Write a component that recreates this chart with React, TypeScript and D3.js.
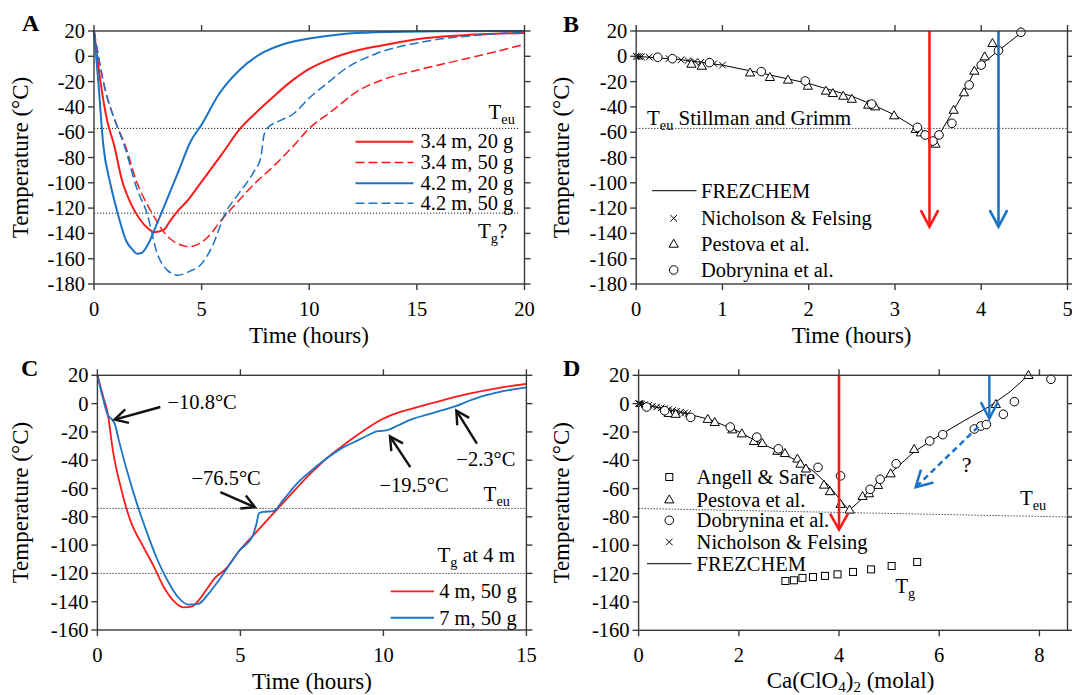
import React from "react";
import * as d3 from "d3";

type P = [number, number];

// ---------- Panel A : temperature vs time ----------
const aRed20: P[] = [[0,20],[0.3,-20],[0.6,-50],[0.93,-70],[1.3,-98],[1.7,-116],[2.1,-128],[2.5,-136],[2.8,-139],[3.25,-137],[3.5,-131],[3.9,-122],[4.3,-115],[5,-99],[6,-76],[6.75,-58],[7.5,-45],[8.33,-32],[9,-22],[10,-10],[11,-2],[12.3,5],[13.5,9],[15,13.5],[17,16.5],[20,18.5]];
const aRed50: P[] = [[0,20],[0.5,-25],[1,-52],[1.44,-70],[2,-100],[2.5,-118],[2.8,-127],[3.2,-138],[3.6,-145],[4,-149],[4.4,-150.5],[5,-147],[5.4,-141],[5.8,-132],[6.3,-122],[6.75,-113.6],[7.5,-100],[8.33,-87],[9.2,-72],[10,-57],[11,-44],[12.3,-27],[13.5,-18],[15,-11],[17,-3],[18.5,3],[20,9.5]];
const aBlue20: P[] = [[0,20],[0.2,-20],[0.43,-70],[0.75,-100],[1.1,-124],[1.5,-146],[1.8,-153],[2,-156],[2.2,-155.5],[2.5,-149],[2.86,-135],[3.25,-119],[3.9,-92],[4.5,-67],[5,-54],[5.8,-30],[6.75,-11],[7.7,1.5],[8.8,9.5],[10,14],[11.5,17.5],[13.1,19],[16,19.8],[20,20]];
const aBlue50: P[] = [[0,20],[0.5,-25],[1,-52],[1.4,-70],[2,-105],[2.46,-124],[2.94,-156],[3.4,-169],[3.9,-173],[4.44,-170],[5,-164],[5.5,-150],[6.1,-124],[6.75,-108],[7.4,-92],[7.75,-80],[7.9,-62],[8.1,-56],[8.5,-52],[9.3,-45],[10,-33],[11,-19],[11.5,-12],[13.1,2],[15,10.5],[17.9,16.8],[20,19]];
const aLegend = ["3.4 m, 20 g", "3.4 m, 50 g", "4.2 m, 20 g", "4.2 m, 50 g"];
const aTeu = -57;
const aTg = -124;

// ---------- Panel B ----------
const bFrez: P[] = [[0,0],[0.5,-2.5],[1,-7],[1.5,-14],[2,-21.5],[2.5,-31.5],[2.75,-38.5],[3,-46.5],[3.25,-57],[3.45,-67],[3.53,-60],[3.68,-42.5],[3.8,-28.5],[3.92,-12],[4,-6.5],[4.2,4.5],[4.47,19]];
const bNich: P[] = [[0,0],[0.02,-0.1],[0.04,-0.2],[0.06,-0.3],[0.15,-0.6],[0.38,-1.8],[0.52,-2.8],[0.6,-3.4],[0.68,-4.1],[0.75,-4.7],[0.9,-5.8],[1,-7]];
const bPest: P[] = [[0.64,-6.1],[0.76,-7.7],[1.32,-13],[1.55,-16.6],[1.76,-18.7],[1.99,-23.5],[2.2,-27.4],[2.28,-29.3],[2.4,-31.4],[2.5,-33.8],[2.69,-38.5],[2.77,-39.8],[2.99,-46.9],[3.24,-57.7],[3.3,-60.4],[3.47,-69.3],[3.68,-42.5],[3.8,-28.7],[3.92,-11.6],[4.04,-0.3],[4.13,10.3]];
const bDob: P[] = [[0.25,-0.8],[0.42,-1.9],[0.85,-5],[1.45,-12.1],[1.96,-19.5],[2.73,-37.7],[3.26,-56.2],[3.35,-62.2],[3.44,-67],[3.51,-62.2],[3.66,-53],[3.86,-22.7],[4,-6.9],[4.2,4.5],[4.46,19]];
const bArrows = [3.4, 4.2];
const bArrowTip = -134.7;
const bTeu = -57;

// ---------- Panel C ----------
const cRed: P[] = [[0,20],[0.2,5],[0.36,-7],[0.54,-33],[0.84,-61],[1.14,-82],[1.6,-101],[1.97,-115],[2.33,-130],[2.69,-140],[3,-144],[3.3,-143.5],[3.5,-140],[3.76,-133],[4.12,-123],[4.48,-117],[4.96,-104],[5.5,-92],[6,-81],[6.5,-70],[7,-59],[7.5,-48.5],[8,-39],[8.5,-31],[9,-23.5],[9.5,-16.5],[10,-10.5],[10.5,-6.5],[11,-3.5],[12,2],[13,7],[14,11],[15,14]];
const cBlue: P[] = [[0,20],[0.18,5],[0.36,-8],[0.5,-11],[0.6,-14],[0.75,-26],[1,-45],[1.37,-70],[1.73,-91],[2.09,-110],[2.45,-125],[2.81,-136.5],[3.17,-142],[3.53,-141.5],[3.88,-134.5],[4.24,-125],[4.48,-118],[4.96,-104],[5.44,-93],[5.56,-85],[5.65,-77.5],[5.8,-76.5],[6.15,-76],[6.5,-68],[7,-56],[7.5,-47],[8,-39],[8.5,-32],[9,-27],[9.5,-22],[9.8,-19.5],[10.1,-19],[10.5,-15.5],[11,-11],[11.5,-8],[12,-5],[12.5,-2],[13,2],[13.5,5.5],[14,8],[15,11.5]];
const cLegend = ["4 m, 50 g", "7 m, 50 g"];
const cTeu = -74.1;
const cTg = -120;
// annotation: label, text anchor [x,y], arrow tail, arrow tip (data units)
const cNotes: { label: string; text: P; tail: P; tip: P }[] = [
  { label: "\u221210.8\u00b0C", text: [2.45, -3.6], tail: [2.2, -2.4], tip: [0.6, -11.3] },
  { label: "\u221276.5\u00b0C", text: [3.29, -57.8], tail: [4.3, -62.6], tip: [5.51, -73.2] },
  { label: "\u221219.5\u00b0C", text: [9.86, -62.6], tail: [10.94, -44.9], tip: [10.23, -23.2] },
  { label: "\u22122.3\u00b0C", text: [12.55, -43.8], tail: [13.27, -28.3], tip: [12.55, -4.9] },
];

// ---------- Panel D ----------
const dFrez: P[] = [[0,0],[0.5,-3.5],[1,-7.5],[1.4,-11],[1.9,-18],[2.3,-25.5],[2.75,-33],[3.2,-41],[3.5,-48],[3.8,-58],[4.05,-69],[4.2,-75.5],[4.65,-61],[5,-50],[5.5,-34],[6,-22.5],[6.5,-12],[7,-2],[7.4,8],[7.78,20]];
const dNich: P[] = [[0,0],[0.01,-0.05],[0.03,-0.15],[0.06,-0.3],[0.12,-0.7],[0.2,-1.2],[0.28,-1.8],[0.36,-2.4],[0.45,-3],[0.52,-3.5],[0.6,-4.2],[0.68,-4.8],[0.76,-5.4],[0.84,-6],[0.92,-6.6],[0.98,-7.1]];
const dPest: P[] = [[0.6,-6.8],[0.74,-7.4],[1.38,-11],[1.52,-13.2],[1.87,-18.4],[2.06,-21.2],[2.3,-26.6],[2.47,-28],[2.77,-33.5],[2.92,-35.1],[3.17,-39],[3.23,-42.6],[3.34,-46],[3.7,-57.4],[3.82,-62],[4.03,-71],[4.21,-75],[4.47,-65.4],[4.6,-63.5],[4.78,-57.6],[5.03,-49.4],[5.5,-32.2],[7.13,-0.5],[7.78,20]];
const dDob: P[] = [[0.16,-2.4],[0.52,-5],[1.04,-9.7],[1.83,-16.5],[2.36,-23.6],[2.79,-31.9],[3.58,-45],[4.03,-51],[4.62,-60.5],[4.82,-53.4],[5.14,-42.4],[5.81,-26.4],[6.07,-21.9],[6.7,-17.9],[6.83,-15.8],[6.94,-14.8],[7.28,-7.5],[7.5,1.4],[8.23,17.2]];
const dAngell: P[] = [[2.93,-125.2],[3.1,-124.7],[3.27,-123],[3.48,-122.4],[3.72,-121.6],[3.97,-120.5],[4.28,-118.8],[4.64,-117],[5.05,-114.6],[5.56,-111.8]];
const dTeu: P[] = [[0,-74],[8.56,-80]];
const dRedArrow = { x: 4, tip: -89 };
const dBlueArrow = { x: 7, tip: -10.6 };
const dDashArrow: P[] = [[6.78,-16.3],[5.53,-59]];

// ticks
const ticksA_x = [0, 5, 10, 15, 20];
const ticksB_x = [0, 1, 2, 3, 4, 5];
const ticksC_x = [0, 5, 10, 15];
const ticksD_x = [0, 2, 4, 6, 8];
const ticksAB_y = d3.range(-180, 21, 20);
const ticksCD_y = d3.range(-160, 21, 20);

const FONT = "'Liberation Serif', 'Times New Roman', Times, serif";
const RED = "#ff1a1a";
const BLUE = "#1a73c6";
const AX = "#3a3a3a";

type S = d3.ScaleLinear<number, number>;

function Frame({ sx, sy, xt, yt }: { sx: S; sy: S; xt: number[]; yt: number[] }) {
  const [left, right] = sx.range();
  const [bottom, top] = sy.range();
  return (
    <g>
      <rect x={left} y={top} width={right - left} height={bottom - top} fill="none" stroke={AX} strokeWidth={1.4} />
      {xt.map((v) => (
        <g key={"x" + v}>
          <line x1={sx(v)} x2={sx(v)} y1={bottom} y2={bottom + 6} stroke={AX} strokeWidth={1.4} />
          <line x1={sx(v)} x2={sx(v)} y1={top} y2={top - 6} stroke={AX} strokeWidth={1.4} />
          <text x={sx(v)} y={bottom + 32} textAnchor="middle" fontSize={20.5}>{v}</text>
        </g>
      ))}
      {yt.map((v) => (
        <g key={"y" + v}>
          <line x1={left - 6} x2={left} y1={sy(v)} y2={sy(v)} stroke={AX} strokeWidth={1.4} />
          <line x1={right} x2={right + 6} y1={sy(v)} y2={sy(v)} stroke={AX} strokeWidth={1.4} />
          <text x={left - 9} y={sy(v) + 7} textAnchor="end" fontSize={20.5}>{String(v)}</text>
        </g>
      ))}
    </g>
  );
}

function Arrow({ x1, y1, x2, y2, color, w = 2.5, head = 16, half = 9, dash }: any) {
  const ang = Math.atan2(y2 - y1, x2 - x1);
  const ux = Math.cos(ang), uy = Math.sin(ang);
  const bx = x2 - ux * head, by = y2 - uy * head;
  const px = -uy, py = ux;
  const pts = `${bx + px * half},${by + py * half} ${x2},${y2} ${bx - px * half},${by - py * half}`;
  return (
    <g>
      <line x1={x1} y1={y1} x2={x2 - ux * 1} y2={y2 - uy * 1} stroke={color} strokeWidth={w} strokeDasharray={dash} />
      <polyline points={pts} fill="none" stroke={color} strokeWidth={w} />
    </g>
  );
}

function Circ({ x, y }: { x: number; y: number }) {
  return <circle cx={x} cy={y} r={4.3} fill="#fff" stroke="#000" strokeWidth={1} />;
}
function Tri({ x, y }: { x: number; y: number }) {
  return <polygon points={`${x},${y - 4.8} ${x + 4.6},${y + 3.2} ${x - 4.6},${y + 3.2}`} fill="#fff" stroke="#000" strokeWidth={1} />;
}
function Cross({ x, y }: { x: number; y: number }) {
  const s = 3.3;
  return (
    <g stroke="#000" strokeWidth={1}>
      <line x1={x - s} y1={y - s} x2={x + s} y2={y + s} />
      <line x1={x - s} y1={y + s} x2={x + s} y2={y - s} />
    </g>
  );
}
function Sq({ x, y }: { x: number; y: number }) {
  return <rect x={x - 3.5} y={y - 3.5} width={7} height={7} fill="#fff" stroke="#000" strokeWidth={1} />;
}

function Sub({ x, y, main, sub, rest, size = 21, anchor }: any) {
  return (
    <text x={x} y={y} fontSize={size} textAnchor={anchor}>
      {main}
      <tspan dy={5} fontSize={size * 0.68}>{sub}</tspan>
      {rest ? <tspan dy={-5}>{rest}</tspan> : null}
    </text>
  );
}

function YTitle({ x, y }: { x: number; y: number }) {
  return (
    <text transform={`translate(${x},${y}) rotate(-90)`} textAnchor="middle" dominantBaseline="central" fontSize={23}>
      Temperature (°C)
    </text>
  );
}

export default function App() {
  const axA = d3.scaleLinear().domain([0, 20]).range([94, 524.5]);
  const ayA = d3.scaleLinear().domain([-180, 20]).range([284, 31]);
  const axB = d3.scaleLinear().domain([0, 5]).range([636.2, 1067.5]);
  const ayB = ayA;
  const axC = d3.scaleLinear().domain([0, 15]).range([97.4, 526.4]);
  const ayC = d3.scaleLinear().domain([-160, 20]).range([630, 375.3]);
  const axD = d3.scaleLinear().domain([0, 8.56]).range([638.6, 1067.5]);
  const ayD = d3.scaleLinear().domain([-160, 20]).range([630.3, 375.3]);

  const lineOf = (sx: S, sy: S, smooth = true) =>
    d3.line<P>().x((d) => sx(d[0])).y((d) => sy(d[1])).curve(smooth ? d3.curveMonotoneX : d3.curveLinear);

  const lA = lineOf(axA, ayA);
  const lC = lineOf(axC, ayC);
  const lB = lineOf(axB, ayB, false);
  const lD = lineOf(axD, ayD, false);

  const aSeries = [
    { d: aRed20, c: RED, dash: undefined, w: 2 },
    { d: aRed50, c: RED, dash: "9,4", w: 1.5 },
    { d: aBlue20, c: BLUE, dash: undefined, w: 2 },
    { d: aBlue50, c: BLUE, dash: "9,4", w: 1.5 },
  ];
  const aLegendY = [141.7, 162.5, 183.3, 203.3];

  return (
    <svg width={1072} height={695} style={{ display: "block", position: "absolute", left: 0, top: 0 }} fontFamily={FONT}>
      <rect width={1072} height={695} fill="#fff" />

      {/* ---------------- Panel A ---------------- */}
      <g>
        <line x1={axA(0)} x2={axA(19.76)} y1={ayA(aTeu)} y2={ayA(aTeu)} stroke="#222" strokeWidth={1} strokeDasharray="1.2,1.8" />
        <line x1={axA(0)} x2={axA(19.76)} y1={ayA(aTg)} y2={ayA(aTg)} stroke="#222" strokeWidth={1} strokeDasharray="1.2,1.8" />
        {aSeries.map((s, i) => (
          <path key={i} d={lA(s.d) || ""} fill="none" stroke={s.c} strokeWidth={s.w} strokeDasharray={s.dash} />
        ))}
        <Frame sx={axA} sy={ayA} xt={ticksA_x} yt={ticksAB_y} />
        {aSeries.map((s, i) => (
          <g key={"lg" + i}>
            <line x1={355.5} x2={413.5} y1={aLegendY[i]} y2={aLegendY[i]} stroke={s.c} strokeWidth={s.w} strokeDasharray={s.dash} />
            <text x={420.5} y={aLegendY[i] + 6.5} fontSize={20.5}>{aLegend[i]}</text>
          </g>
        ))}
        <Sub x={488.5} y={119} main="T" sub="eu" />
        <Sub x={478} y={237.5} main="T" sub="g" rest="?" />
        <text x={22} y={31} fontSize={24} fontWeight="bold">A</text>
        <YTitle x={20.5} y={157.5} />
        <text x={309} y={343} textAnchor="middle" fontSize={23}>Time (hours)</text>
      </g>

      {/* ---------------- Panel B ---------------- */}
      <g>
        <line x1={axB(0)} x2={axB(5)} y1={ayB(bTeu)} y2={ayB(bTeu)} stroke="#222" strokeWidth={1} strokeDasharray="1.2,1.8" />
        <path d={lB(bFrez) || ""} fill="none" stroke="#000" strokeWidth={1} />
        {bNich.map((p, i) => <Cross key={"bn" + i} x={axB(p[0])} y={ayB(p[1])} />)}
        {bPest.map((p, i) => <Tri key={"bp" + i} x={axB(p[0])} y={ayB(p[1])} />)}
        {bDob.map((p, i) => <Circ key={"bd" + i} x={axB(p[0])} y={ayB(p[1])} />)}
        {bArrows.map((t, i) => (
          <Arrow key={"ba" + i} x1={axB(t)} y1={ayB(20)} x2={axB(t)} y2={ayB(bArrowTip)} color={i === 0 ? RED : BLUE} w={2.6} head={16.5} half={8.8} />
        ))}
        <Frame sx={axB} sy={ayB} xt={ticksB_x} yt={ticksAB_y} />
        <Sub x={647} y={125} main="T" sub="eu" rest=" Stillman and Grimm" />
        <line x1={652} x2={696.5} y1={190.7} y2={190.7} stroke="#000" strokeWidth={1} />
        <text x={701} y={197.5} fontSize={20.5}>FREZCHEM</text>
        <Cross x={673.7} y={218.3} />
        <text x={701} y={225} fontSize={20.5}>Nicholson &amp; Felsing</text>
        <Tri x={673.7} y={244} />
        <text x={701} y={251} fontSize={20.5}>Pestova et al.</text>
        <Circ x={673.7} y={270} />
        <text x={701} y={277} fontSize={20.5}>Dobrynina et al.</text>
        <text x={563} y={32} fontSize={24} fontWeight="bold">B</text>
        <YTitle x={561.6} y={157.5} />
        <text x={851.6} y={343} textAnchor="middle" fontSize={23}>Time (hours)</text>
      </g>

      {/* ---------------- Panel C ---------------- */}
      <g>
        <line x1={axC(0)} x2={axC(15)} y1={ayC(cTeu)} y2={ayC(cTeu)} stroke="#222" strokeWidth={1} strokeDasharray="1.2,1.8" />
        <line x1={axC(0)} x2={axC(15)} y1={ayC(cTg)} y2={ayC(cTg)} stroke="#222" strokeWidth={1} strokeDasharray="1.2,1.8" />
        <path d={lC(cRed) || ""} fill="none" stroke={RED} strokeWidth={1.8} />
        <path d={lC(cBlue) || ""} fill="none" stroke={BLUE} strokeWidth={1.8} />
        <Frame sx={axC} sy={ayC} xt={ticksC_x} yt={ticksCD_y} />
        {cNotes.map((n, i) => (
          <g key={"cn" + i}>
            <text x={axC(n.text[0])} y={ayC(n.text[1])} fontSize={20.5}>{n.label}</text>
            <Arrow x1={axC(n.tail[0])} y1={ayC(n.tail[1])} x2={axC(n.tip[0])} y2={ayC(n.tip[1])} color="#111" w={2.4} head={13} half={7} />
          </g>
        ))}
        <Sub x={483.6} y={501} main="T" sub="eu" />
        <Sub x={437.5} y={562} main="T" sub="g" rest=" at 4 m" />
        <line x1={390.7} x2={434} y1={591.3} y2={591.3} stroke={RED} strokeWidth={1.8} />
        <text x={439.2} y={598} fontSize={20.5}>{cLegend[0]}</text>
        <line x1={390.7} x2={434} y1={617.7} y2={617.7} stroke={BLUE} strokeWidth={2} />
        <text x={439.2} y={624.5} fontSize={20.5}>{cLegend[1]}</text>
        <text x={21} y={376} fontSize={24} fontWeight="bold">C</text>
        <YTitle x={20.5} y={502.6} />
        <text x={312} y={688.7} textAnchor="middle" fontSize={23}>Time (hours)</text>
      </g>

      {/* ---------------- Panel D ---------------- */}
      <g>
        <line x1={axD(dTeu[0][0])} x2={axD(dTeu[1][0])} y1={ayD(dTeu[0][1])} y2={ayD(dTeu[1][1])} stroke="#222" strokeWidth={1} strokeDasharray="1.2,1.8" />
        <path d={lD(dFrez) || ""} fill="none" stroke="#000" strokeWidth={1} />
        {dNich.map((p, i) => <Cross key={"dn" + i} x={axD(p[0])} y={ayD(p[1])} />)}
        {dPest.map((p, i) => <Tri key={"dp" + i} x={axD(p[0])} y={ayD(p[1])} />)}
        {dDob.map((p, i) => <Circ key={"dd" + i} x={axD(p[0])} y={ayD(p[1])} />)}
        {dAngell.map((p, i) => <Sq key={"da" + i} x={axD(p[0])} y={ayD(p[1])} />)}
        <Arrow x1={axD(dRedArrow.x)} y1={ayD(20)} x2={axD(dRedArrow.x)} y2={ayD(dRedArrow.tip)} color={RED} w={2.6} head={16} half={9} />
        <Arrow x1={axD(dBlueArrow.x)} y1={ayD(20)} x2={axD(dBlueArrow.x)} y2={ayD(dBlueArrow.tip)} color={BLUE} w={2.4} head={16.5} half={8.5} />
        <Arrow x1={axD(dDashArrow[0][0])} y1={ayD(dDashArrow[0][1])} x2={axD(dDashArrow[1][0])} y2={ayD(dDashArrow[1][1])} color={BLUE} w={2.5} head={16} half={9} dash="6,4" />
        <Frame sx={axD} sy={ayD} xt={ticksD_x} yt={ticksCD_y} />
        <text x={axD(6.45)} y={ayD(-48)} fontSize={22}>?</text>
        <Sub x={axD(7.61)} y={ayD(-71.5)} main="T" sub="eu" />
        <Sub x={axD(5.12)} y={ayD(-133.9)} main="T" sub="g" />
        <Sq x={669.3} y={477} />
        <text x={696.6} y={484} fontSize={20.5}>Angell &amp; Sare</text>
        <Tri x={669.3} y={499.7} />
        <text x={696.6} y={506.7} fontSize={20.5}>Pestova et al.</text>
        <Circ x={669.3} y={520.3} />
        <text x={696.6} y={527.3} fontSize={20.5}>Dobrynina et al.</text>
        <Cross x={669.3} y={542} />
        <text x={696.6} y={549} fontSize={20.5}>Nicholson &amp; Felsing</text>
        <line x1={647} x2={691.5} y1={563.7} y2={563.7} stroke="#000" strokeWidth={1} />
        <text x={696.6} y={570.7} fontSize={20.5}>FREZCHEM</text>
        <text x={563} y={376} fontSize={24} fontWeight="bold">D</text>
        <YTitle x={561.6} y={502.8} />
        <text x={850.5} y={687.5} textAnchor="middle" fontSize={23}>
          Ca(ClO<tspan dy={4} fontSize={15}>4</tspan>
          <tspan dy={-4}>)</tspan>
          <tspan dy={4} fontSize={15}>2</tspan>
          <tspan dy={-4}> (molal)</tspan>
        </text>
      </g>
    </svg>
  );
}
